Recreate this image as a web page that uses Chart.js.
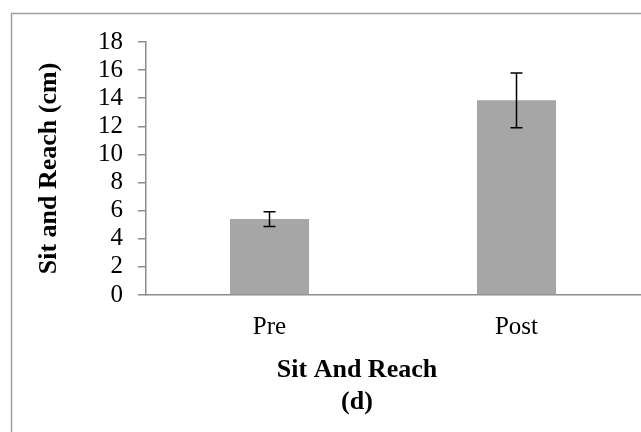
<!DOCTYPE html>
<html lang="en">
<head>
  <meta charset="UTF-8">
  <title>Sit And Reach</title>
  <script src="https://cdn.jsdelivr.net/npm/chart.js"></script>
  <style>
    body { margin: 0; background: #fff; }
  </style>
</head>
<body>
  <canvas id="grafico_sit" width="641" height="432"></canvas>

<script>
  // dados
  var categorias = ['Pre', 'Post']
  var valores = [5.4, 13.85]
  var erros = [0.53, 1.95]
  var ticks_y = [0, 2, 4, 6, 8, 10, 12, 14, 16, 18]

  var titulo_x = ['Sit And Reach', '(d)']
  var titulo_y = 'Sit and Reach (cm)'

  var fonte = 'Liberation Serif, Times New Roman, serif'

  // moldura cinza + titulo de baixo
  const moldura = {
    id: 'moldura',
    beforeDraw(chart) {
      const ctx = chart.ctx
      ctx.save()
      ctx.fillStyle = '#fff'
      ctx.fillRect(0, 0, chart.width, chart.height)
      ctx.strokeStyle = '#a0a0a0'
      ctx.lineWidth = 1.5
      ctx.beginPath()
      ctx.moveTo(11.5, chart.height)
      ctx.lineTo(11.5, 13.5)
      ctx.lineTo(chart.width, 13.5)
      ctx.stroke()
      ctx.restore()
    },
    afterDraw(chart) {
      const ctx = chart.ctx
      ctx.save()
      ctx.fillStyle = '#000'
      ctx.font = 'bold 26px ' + fonte
      ctx.textAlign = 'center'
      ctx.textBaseline = 'middle'
      ctx.fillText(titulo_x[0], 357, 370)
      ctx.fillText(titulo_x[1], 357, 402)
      ctx.restore()
    }
  }

  // barras de erro
  const barras_erro = {
    id: 'barras_erro',
    afterDatasetsDraw(chart) {
      const ctx = chart.ctx
      const y = chart.scales.y
      const meta = chart.getDatasetMeta(0)
      ctx.save()
      ctx.strokeStyle = '#000'
      ctx.lineWidth = 1.5
      meta.data.forEach(function (barra, i) {
        const x = barra.x
        const topo = y.getPixelForValue(valores[i] + erros[i])
        const base = y.getPixelForValue(valores[i] - erros[i])
        ctx.beginPath()
        ctx.moveTo(x, topo)
        ctx.lineTo(x, base)
        ctx.moveTo(x - 6, topo)
        ctx.lineTo(x + 6, topo)
        ctx.moveTo(x - 6, base)
        ctx.lineTo(x + 6, base)
        ctx.stroke()
      })
      ctx.restore()
    }
  }

  const data = {
    labels: categorias,
    datasets: [{
      data: valores,
      backgroundColor: '#a6a6a6',
      borderWidth: 0,
      categoryPercentage: 1,
      barPercentage: 0.32
    }]
  }

  const config = {
    type: 'bar',
    data: data,
    options: {
      responsive: false,
      animation: false,
      devicePixelRatio: 1,
      layout: { padding: { top: 42, right: 1, left: 0, bottom: 0 } },
      plugins: {
        legend: { display: false },
        tooltip: { enabled: false }
      },
      scales: {
        x: {
          afterFit: function (escala) { escala.height = 137 },
          grid: { display: false, drawTicks: false },
          border: { display: true, color: '#8c8c8c', width: 1.5 },
          ticks: { color: '#000', padding: 17, font: { family: fonte, size: 25 } }
        },
        y: {
          min: ticks_y[0],
          max: ticks_y[ticks_y.length - 1],
          afterFit: function (escala) { escala.width = 146 },
          afterBuildTicks: function (escala) {
            escala.ticks = ticks_y.map(function (v) { return { value: v } })
          },
          grid: { drawOnChartArea: false, drawTicks: true, tickLength: 8, color: '#8c8c8c', lineWidth: 1.5 },
          border: { display: true, color: '#8c8c8c', width: 1.5 },
          ticks: { color: '#000', padding: 15, autoSkip: false, font: { family: fonte, size: 25 } },
          title: {
            display: true,
            text: titulo_y,
            color: '#000',
            padding: { top: 34, bottom: 0 },
            font: { family: fonte, size: 26, weight: 'bold' }
          }
        }
      }
    },
    plugins: [moldura, barras_erro]
  }

  const grafico = new Chart(document.getElementById('grafico_sit'), config)
</script>
</body>
</html>
